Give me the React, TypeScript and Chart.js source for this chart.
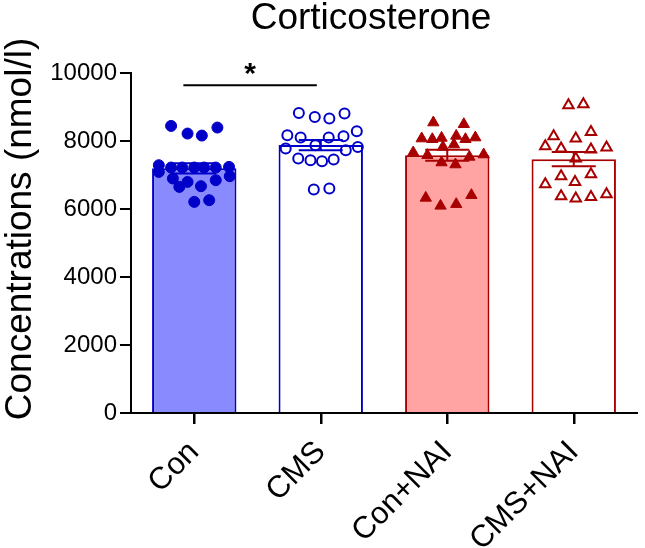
import React, { useEffect, useRef } from 'react';
import { Chart, registerables } from 'chart.js';

Chart.register(...registerables);

const chartTitle = 'Corticosterone';
const yAxisLabel = 'Concentrations (nmol/l)';
const categories = ['Con', 'CMS', 'Con+NAI', 'CMS+NAI'];
const yTicks = [0, 2000, 4000, 6000, 8000, 10000];

const means = [7195, 7880, 7580, 7465];
const sems = [150, 150, 160, 210];

const conValues = [8443, 8219, 8160, 8396, 7288, 7091, 7220, 7220, 7220, 7220, 7220, 7238, 6965, 6897, 6650, 6797, 6671, 6847, 6209, 6259];
const conJitter = [-0.183, -0.053, 0.06, 0.183, -0.28, -0.28, -0.183, -0.094, 0, 0.078, 0.17, 0.275, 0.281, -0.169, -0.118, -0.053, 0.053, 0.17, 0, 0.118];

const cmsValues = [8825, 8707, 8660, 8807, 8169, 8101, 8101, 8140, 8287, 7779, 7876, 7729, 7826, 7485, 7435, 7405, 7455, 6574, 6603];
const cmsJitter = [-0.173, -0.047, 0.068, 0.188, -0.264, -0.159, 0.063, 0.18, 0.285, -0.277, -0.042, 0.198, 0.293, -0.178, -0.081, 0.01, 0.102, -0.055, 0.068];

const conNaiValues = [8542, 8493, 8072, 8052, 8090, 8149, 8052, 8101, 7826, 7896, 7661, 7582, 7532, 7602, 7367, 7308, 6327, 6092, 6142, 6406];
const conNaiJitter = [-0.11, 0.131, -0.202, -0.118, -0.045, 0.071, 0.144, 0.222, -0.034, 0.053, -0.269, -0.157, 0.175, 0.288, -0.045, 0.065, -0.17, -0.053, 0.071, 0.191];

const cmsNaiValues = [9051, 9080, 8140, 8072, 8266, 7846, 7779, 7749, 7808, 7485, 6965, 7023, 6729, 6797, 6377, 6309, 6356, 6436];
const cmsNaiJitter = [-0.042, 0.076, -0.159, 0.016, 0.136, -0.225, -0.1, 0.136, 0.259, 0.016, -0.1, 0.136, -0.225, 0.01, -0.1, 0.016, 0.136, 0.259];

const sigFrom = -0.086;
const sigTo = 0.969;
const sigValue = 9640;
const sigText = '*';

const BLUE = '#0000c8';
const BLUE_FILL = '#8a8aff';
const RED = '#a80000';
const RED_FILL = '#ffa3a3';
const FONT = "'Liberation Sans', Arial, sans-serif";

const barColors = [BLUE_FILL, '#ffffff', RED_FILL, '#ffffff'];
const borderColors = [BLUE, BLUE, RED, RED];

function pts(idx: number, vals: number[], jit: number[]) {
  return vals.map((v, i) => ({ x: idx + jit[i], y: v }));
}

export default function App() {
  const ref = useRef<HTMLCanvasElement | null>(null);

  useEffect(() => {
    document.body.style.margin = '0';
    const canvas = ref.current;
    if (!canvas) return;

    const errorBars = {
      id: 'errorBars',
      afterDatasetDraw(chart: any, args: any) {
        if (args.index !== 0) return;
        const ctx = chart.ctx;
        const x = chart.scales.x;
        const y = chart.scales.y;
        ctx.save();
        ctx.lineWidth = 2;
        means.forEach((m, i) => {
          const cx = x.getPixelForValue(i);
          const half = 22;
          const top = y.getPixelForValue(m + sems[i]);
          const bot = y.getPixelForValue(m - sems[i]);
          ctx.strokeStyle = borderColors[i];
          ctx.beginPath();
          ctx.moveTo(cx, top);
          ctx.lineTo(cx, bot);
          ctx.moveTo(cx - half, top);
          ctx.lineTo(cx + half, top);
          ctx.moveTo(cx - half, bot);
          ctx.lineTo(cx + half, bot);
          ctx.stroke();
        });
        ctx.restore();
      },
    };

    const annotations = {
      id: 'annotations',
      afterDraw(chart: any) {
        const ctx = chart.ctx;
        const xs = chart.scales.x;
        const y = chart.scales.y;
        const area = chart.chartArea;
        ctx.save();

        // category tick marks below the x axis
        ctx.strokeStyle = '#000';
        ctx.lineWidth = 2;
        ctx.beginPath();
        categories.forEach((_, i) => {
          const px = Math.round(xs.getPixelForValue(i)) + 0.5;
          ctx.moveTo(px, area.bottom);
          ctx.lineTo(px, area.bottom + 11);
        });
        ctx.stroke();

        ctx.fillStyle = '#000';
        ctx.font = `37px ${FONT}`;
        ctx.textAlign = 'center';
        ctx.textBaseline = 'middle';
        ctx.fillText(chartTitle, (area.left + area.right) / 2 - 13, 19);

        ctx.save();
        ctx.translate(21, (area.top + area.bottom) / 2 - 14);
        ctx.rotate(-Math.PI / 2);
        ctx.font = `37px ${FONT}`;
        ctx.fillText(yAxisLabel, 0, 0);
        ctx.restore();

        const x1 = xs.getPixelForValue(sigFrom);
        const x2 = xs.getPixelForValue(sigTo);
        const sy = y.getPixelForValue(sigValue);
        ctx.strokeStyle = '#000';
        ctx.lineWidth = 2;
        ctx.beginPath();
        ctx.moveTo(x1, sy);
        ctx.lineTo(x2, sy);
        ctx.stroke();
        ctx.font = `bold 30px ${FONT}`;
        ctx.textBaseline = 'alphabetic';
        ctx.fillText(sigText, (x1 + x2) / 2, sy - 2);
        ctx.restore();
      },
    };

    const chart = new Chart(canvas, {
      type: 'scatter',
      data: {
        datasets: [
          {
            type: 'bar',
            data: means.map((m, i) => ({ x: i, y: m })),
            backgroundColor: barColors,
            borderColor: borderColors,
            borderWidth: 2,
            barPercentage: 0.667,
            categoryPercentage: 1,
            grouped: false,
            order: 5,
          } as any,
          {
            data: pts(0, conValues, conJitter),
            pointStyle: 'circle',
            pointRadius: 5.5,
            pointBackgroundColor: BLUE,
            pointBorderColor: BLUE,
            pointBorderWidth: 1,
            order: 0,
          },
          {
            data: pts(1, cmsValues, cmsJitter),
            pointStyle: 'circle',
            pointRadius: 5,
            pointBackgroundColor: 'rgba(255,255,255,0)',
            pointBorderColor: BLUE,
            pointBorderWidth: 2,
            order: 0,
          },
          {
            data: pts(2, conNaiValues, conNaiJitter),
            pointStyle: 'triangle',
            pointRadius: 6.5,
            pointBackgroundColor: RED,
            pointBorderColor: RED,
            pointBorderWidth: 1,
            order: 0,
          },
          {
            data: pts(3, cmsNaiValues, cmsNaiJitter),
            pointStyle: 'triangle',
            pointRadius: 6,
            pointBackgroundColor: 'rgba(255,255,255,0)',
            pointBorderColor: RED,
            pointBorderWidth: 2,
            order: 0,
          },
        ],
      },
      options: {
        animation: false,
        responsive: false,
        layout: { padding: { top: 73, right: 3, left: 0, bottom: 0 } },
        plugins: {
          legend: { display: false },
          tooltip: { enabled: false },
          title: { display: false },
        },
        scales: {
          x: {
            type: 'linear',
            min: -0.5,
            max: 3.5,
            offset: false,
            afterBuildTicks: (s: any) => {
              s.ticks = categories.map((_, i) => ({ value: i }));
            },
            grid: {
              display: true,
              offset: false,
              drawOnChartArea: false,
              drawTicks: true,
              tickLength: 11,
              color: '#000',
              tickColor: '#000',
              tickWidth: 2,
              lineWidth: 2,
            },
            border: { display: true, color: '#000', width: 2 },
            ticks: {
              color: '#000',
              font: { family: FONT, size: 31 },
              minRotation: 45,
              maxRotation: 45,
              autoSkip: false,
              padding: 10,
              callback: (v: any) => categories[Math.round(Number(v))] ?? '',
            },
            afterFit: (s: any) => {
              s.height = 135;
            },
          },
          y: {
            type: 'linear',
            min: 0,
            max: 10000,
            afterBuildTicks: (s: any) => {
              s.ticks = yTicks.map((v) => ({ value: v }));
            },
            grid: {
              display: true,
              offset: false,
              drawOnChartArea: false,
              drawTicks: true,
              tickLength: 11,
              color: '#000',
              lineWidth: 2,
            },
            border: { display: true, color: '#000', width: 2 },
            ticks: {
              color: '#000',
              font: { family: FONT, size: 24 },
              padding: 3,
              callback: (v: any) => String(v),
            },
            title: { display: false },
            afterFit: (s: any) => {
              s.width = 131;
            },
          },
        },
      },
      plugins: [errorBars, annotations],
    } as any);

    return () => chart.destroy();
  }, []);

  return (
    <div style={{ width: 645, height: 548 }}>
      <canvas ref={ref} width={645} height={548} style={{ display: 'block' }} />
    </div>
  );
}
